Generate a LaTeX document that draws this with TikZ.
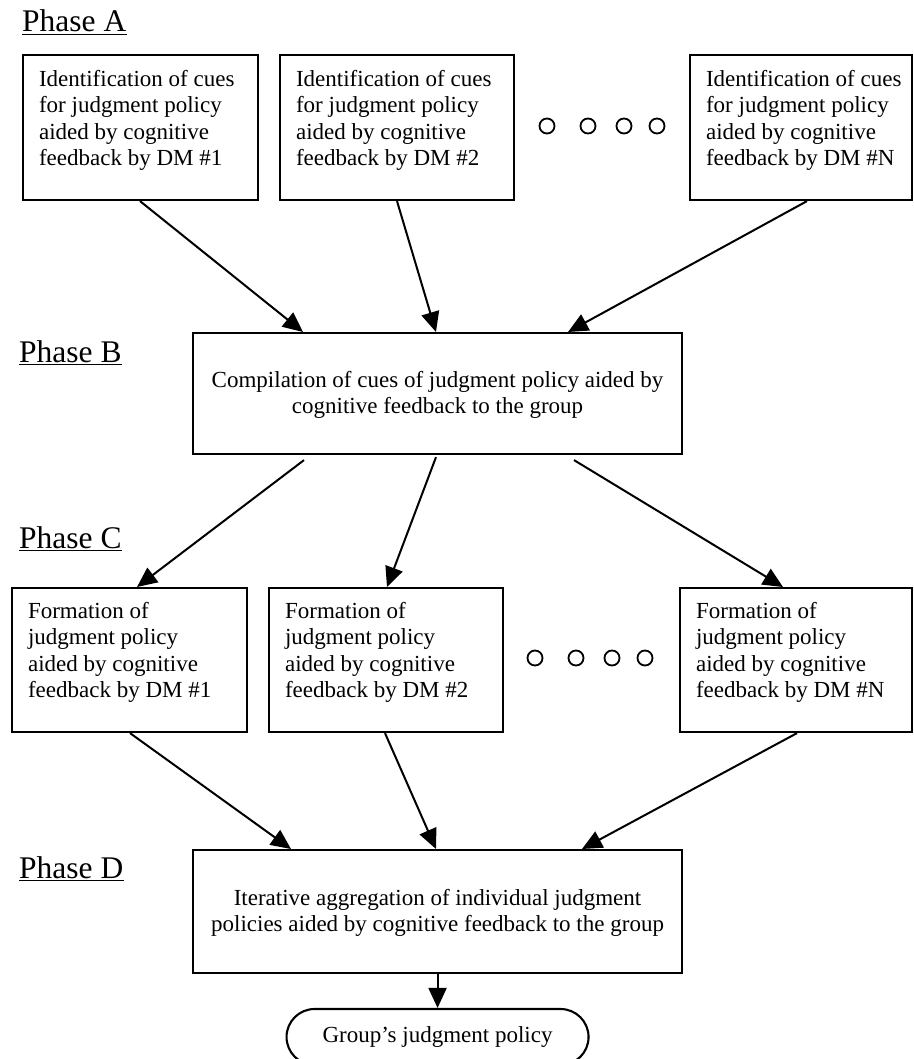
\documentclass[tikz,border=0pt]{standalone}
\usepackage{fontspec}
\setmainfont{Liberation Serif}
\usetikzlibrary{arrows.meta,shapes.misc,calc}
\newcommand\boxtxt[4]{\parbox[c][#2][t]{#1}{\raggedright\leftskip=16pt\parindent=0pt\fontsize{23}{26.6}\selectfont\vspace*{#3}\strut #4}}
\newcommand\ctrtxt[4]{\parbox[c][#2][t]{#1}{\centering\parindent=0pt\fontsize{23}{26}\selectfont\vspace*{#3}\strut #4}}
\tikzset{
  box/.style={draw, line width=2.1pt, inner sep=0pt, anchor=north west},
  arr/.style={line width=2pt, -{Triangle[length=20pt,width=18pt]}},
  phase/.style={anchor=base west, inner sep=0pt, font=\fontsize{31.5}{36}\selectfont},
  uline/.style={line width=1.4pt},
  dotc/.style={line width=1.8pt},
  endbox/.style={draw, line width=2.1pt, rounded rectangle, minimum width=302pt, minimum height=56pt, inner sep=0pt, font=\fontsize{23}{26}\selectfont}
}
\begin{document}
\begin{tikzpicture}[x=1pt,y=-1pt]
\path[use as bounding box, fill=white] (0,0) rectangle (913,1059);

% Phase labels
\node[phase] (pa) at (22,32) {Phase A};
\node[phase] (pb) at (19,362) {Phase B};
\node[phase] (pc) at (19,548) {Phase C};
\node[phase] (pd) at (19,878) {Phase D};
\foreach \p in {pa,pb,pc,pd}{
  \draw[uline] ([yshift=-2.5pt]\p.base west) -- ([yshift=-2.5pt]\p.base east);
}

% Phase A boxes
\node[box] (a1) at (22,54) {\boxtxt{235pt}{145pt}{12.4pt}{Identification of cues\\for judgment policy\\aided by cognitive\\feedback by DM \#1}};
\node[box] (a2) at (279,54) {\boxtxt{234pt}{145pt}{12.4pt}{Identification of cues\\for judgment policy\\aided by cognitive\\feedback by DM \#2}};
\node[box] (a3) at (689,54) {\boxtxt{222pt}{145pt}{12.4pt}{Identification of cues\\for judgment policy\\aided by cognitive\\feedback by DM \#N}};

% dots row A
\foreach \x in {547,588,624,657}{ \draw[dotc] (\x,126) circle[radius=7.5pt]; }

% Phase B box
\node[box] (b) at (192,332) {\ctrtxt{489pt}{121pt}{36.4pt}{Compilation of cues of judgment policy aided by\\cognitive feedback to the group}};

% Phase C boxes
\node[box] (c1) at (11,587) {\boxtxt{235pt}{144pt}{11.4pt}{Formation of\\judgment policy\\aided by cognitive\\feedback by DM \#1}};
\node[box] (c2) at (268,587) {\boxtxt{234pt}{144pt}{11.4pt}{Formation of\\judgment policy\\aided by cognitive\\feedback by DM \#2}};
\node[box] (c3) at (679,587) {\boxtxt{232pt}{144pt}{11.4pt}{Formation of\\judgment policy\\aided by cognitive\\feedback by DM \#N}};

% dots row C
\foreach \x in {535,576,612,645}{ \draw[dotc] (\x,658) circle[radius=7.5pt]; }

% Phase D box
\node[box] (d) at (192,849) {\ctrtxt{489pt}{123pt}{37.4pt}{Iterative aggregation of individual judgment\\policies aided by cognitive feedback to the group}};

% final
\node[endbox] (e) at (d.south |- 0,1037) {Group’s judgment policy};

% arrows A -> B
\draw[arr] ([xshift=118pt]a1.south west) -- ([xshift=111pt]b.north west);
\draw[arr] ([xshift=118pt]a2.south west) -- ([xshift=244pt]b.north west);
\draw[arr] ([xshift=118pt]a3.south west) -- ([xshift=376pt]b.north west);

% arrows B -> C
\draw[arr] ([xshift=112pt,yshift=-5pt]b.south west) -- ([xshift=126pt]c1.north west);
\draw[arr] ([xshift=244pt,yshift=-2pt]b.south west) -- ([xshift=119pt]c2.north west);
\draw[arr] ([xshift=382pt,yshift=-5pt]b.south west) -- ([xshift=104pt]c3.north west);

% arrows C -> D
\draw[arr] ([xshift=119pt]c1.south west) -- ([xshift=99pt]d.north west);
\draw[arr] ([xshift=117pt]c2.south west) -- ([xshift=244pt]d.north west);
\draw[arr] ([xshift=118pt]c3.south west) -- ([xshift=390pt]d.north west);

% D -> final
\draw[arr] (d.south) -- (d.south |- e.north);
\end{tikzpicture}
\end{document}
